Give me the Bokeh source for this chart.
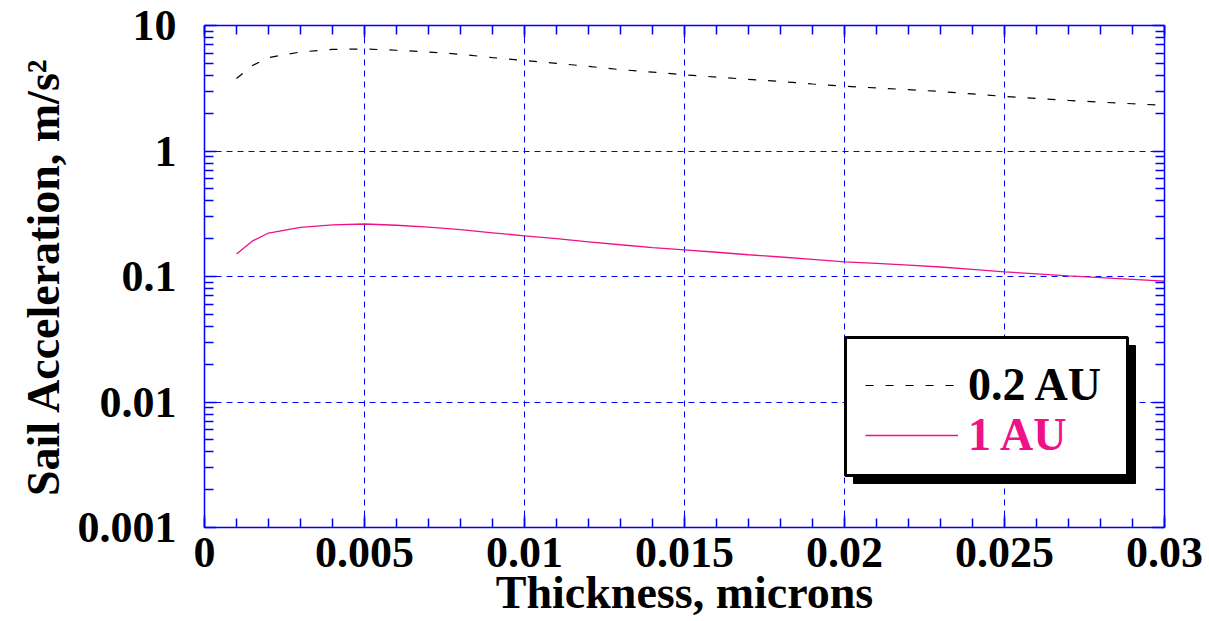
import numpy as np
from bokeh.plotting import figure
from bokeh.models import (FixedTicker, CustomJSTickFormatter, LinearAxis, LogAxis,
                          Legend, LegendItem, BoxAnnotation, Range1d)
from bokeh.embed import file_html
from bokeh.resources import INLINE

# ---------------- data ----------------
thickness = [0.001, 0.0015, 0.002, 0.003, 0.004, 0.005, 0.006, 0.007, 0.008, 0.009,
             0.010, 0.011, 0.012, 0.013, 0.014, 0.015, 0.016, 0.017, 0.018, 0.019,
             0.020, 0.021, 0.022, 0.023, 0.024, 0.025, 0.026, 0.027, 0.028, 0.029, 0.030]
acc_02au = [3.78, 4.80, 5.55, 6.15, 6.45, 6.50, 6.35, 6.15, 5.90, 5.55,
            5.26, 5.00, 4.72, 4.45, 4.25, 4.05, 3.88, 3.72, 3.58, 3.42,
            3.28, 3.18, 3.08, 2.98, 2.85, 2.72, 2.62, 2.53, 2.45, 2.38, 2.31]
acc_1au = [0.151, 0.192, 0.222, 0.246, 0.258, 0.262, 0.256, 0.247, 0.236, 0.223,
           0.211, 0.200, 0.189, 0.179, 0.170, 0.163, 0.156, 0.149, 0.143, 0.137,
           0.131, 0.127, 0.123, 0.119, 0.114, 0.109, 0.105, 0.101, 0.098, 0.095, 0.092]
series_labels = ["0.2 AU", "1 AU"]

x_ticks = [0, 0.005, 0.01, 0.015, 0.02, 0.025, 0.03]
x_tick_labels = ["0", "0.005", "0.01", "0.015", "0.02", "0.025", "0.03"]
y_ticks = [0.001, 0.01, 0.1, 1, 10]
y_tick_labels = ["0.001", "0.01", "0.1", "1", "10"]

# ---------------- styling ----------------
FONT = "Liberation Serif"
BLUE = "#0000FF"
PINK = "#EE1188"
TICK_FS = "44px"
TITLE_FS = "46px"

x_minor = [round(v, 4) for v in np.arange(0, 0.0305, 0.001)]
y_minor = [k * 10.0 ** e for e in range(-3, 1) for k in range(2, 10)]

p = figure(width=1209, height=621, output_backend="svg", toolbar_location=None,
           x_axis_type="linear", y_axis_type="log",
           x_range=Range1d(0, 0.03), y_range=Range1d(0.001, 10),
           min_border_left=204, min_border_right=45, min_border_top=25, min_border_bottom=94,
           background_fill_color="white", border_fill_color="white", outline_line_color=None)

def fmt(tvals, tlabels):
    return CustomJSTickFormatter(args=dict(tv=tvals, tl=tlabels), code="""
        for (let i = 0; i < tv.length; i++) {
            const t = tv[i];
            if (t === tick || Math.abs(t - tick) <= 1e-6 * Math.abs(t)) return tl[i];
        }
        return '';
    """)

def empty_fmt():
    return CustomJSTickFormatter(code="return '';")

xt = FixedTicker(ticks=x_ticks, minor_ticks=x_minor)
yt = FixedTicker(ticks=y_ticks, minor_ticks=y_minor)

def style_axis(ax, labels=True):
    ax.axis_line_color = BLUE
    ax.axis_line_width = 1.5
    ax.major_tick_line_color = BLUE
    ax.minor_tick_line_color = BLUE
    ax.major_tick_line_width = 1.5
    ax.minor_tick_line_width = 1.5
    ax.major_tick_in = 12
    ax.major_tick_out = 0
    ax.minor_tick_in = 9
    ax.minor_tick_out = 0
    ax.major_label_text_font = FONT
    ax.major_label_text_font_style = "bold"
    ax.major_label_text_color = "black"
    ax.axis_label_text_font = FONT
    ax.axis_label_text_font_style = "bold"
    ax.axis_label_text_color = "black"
    ax.axis_label_text_font_size = TITLE_FS
    if labels:
        ax.major_label_text_font_size = TICK_FS
    else:
        ax.major_label_text_font_size = "1px"
        ax.major_label_standoff = 0

xa = p.xaxis[0]
xa.ticker = xt
xa.formatter = fmt(x_ticks, x_tick_labels)
style_axis(xa)
xa.major_label_standoff = 10
xa.axis_label = "Thickness, microns"
xa.axis_label_standoff = -3

ya = p.yaxis[0]
ya.ticker = yt
ya.formatter = fmt(y_ticks, y_tick_labels)
style_axis(ya)
ya.major_label_standoff = 28
ya.axis_label = "Sail Acceleration, m/s\u00b2"
ya.axis_label_standoff = 6

top_ax = LinearAxis(ticker=xt, formatter=empty_fmt())
style_axis(top_ax, labels=False)
p.add_layout(top_ax, "above")
right_ax = LogAxis(ticker=yt, formatter=empty_fmt())
style_axis(right_ax, labels=False)
p.add_layout(right_ax, "right")

p.xgrid[0].ticker = xt
p.ygrid[0].ticker = yt
for g in (p.xgrid[0], p.ygrid[0]):
    g.grid_line_color = BLUE
    g.grid_line_width = 1
    g.grid_line_dash = "6 5"

r02 = p.line(thickness, acc_02au, line_color="black", line_width=1.2, line_dash="8 12")
r1 = p.line(thickness, acc_1au, line_color=PINK, line_width=1.3)

# legend box with drop shadow (canvas pixel units)
shadow = BoxAnnotation(left=853, right=1135, top=345, bottom=483,
                       left_units="canvas", right_units="canvas",
                       top_units="canvas", bottom_units="canvas",
                       fill_color="black", fill_alpha=1,
                       line_color="black", line_alpha=1, line_width=1)
box = BoxAnnotation(left=845, right=1127, top=337, bottom=475,
                    left_units="canvas", right_units="canvas",
                    top_units="canvas", bottom_units="canvas",
                    fill_color="white", fill_alpha=1,
                    line_color="black", line_alpha=1, line_width=3)
p.add_layout(shadow)
p.add_layout(box)

def make_legend(label, renderer, color, loc):
    lg = Legend(items=[LegendItem(label=label, renderers=[renderer])], location=loc,
                background_fill_alpha=0, border_line_color=None, padding=0, margin=0,
                glyph_width=93, glyph_height=20, label_standoff=10, label_height=53,
                label_text_font=FONT, label_text_font_style="bold",
                label_text_font_size=TITLE_FS, label_text_color=color)
    return lg

p.add_layout(make_legend(series_labels[0], r02, "black", (661, 116)))
p.add_layout(make_legend(series_labels[1], r1, PINK, (661, 66)))

open("out.html", "w").write(file_html(p, INLINE))
